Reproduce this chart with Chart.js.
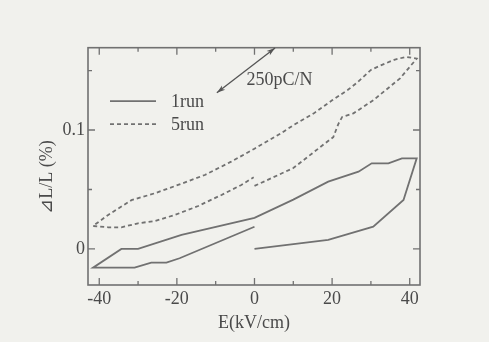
<!DOCTYPE html>
<html>
<head>
<meta charset="utf-8">
<script src="https://cdn.jsdelivr.net/npm/chart.js@4/dist/chart.umd.min.js"></script>
<style>
  html, body { margin: 0; padding: 0; background: #f1f1ed; }
  #wrap { width: 489px; height: 342px; }
</style>
</head>
<body>
<div id="wrap"><canvas id="c" width="489" height="342"></canvas></div>
<script>
// ---- data ----
const run1E = [0, 19, 30.6, 38.4, 41.8, 38, 34.5, 30.2, 26.8, 19, 10, 0, -18.8, -30, -34.3, -41.6, -30.9, -26.6, -22.7, -19.3, 0];
const run1DL = [0, 0.0076, 0.0187, 0.0412, 0.0762, 0.0762, 0.072, 0.072, 0.065, 0.0566, 0.0415, 0.0262, 0.0118, 0, 0, -0.0157, -0.0157, -0.0115, -0.0115, -0.0078, 0.0187];

const run5E = [0, 10, 18.2, 20.3, 21.6, 22.6, 25.5, 30.6, 37.5, 41.8, 39, 36, 33, 30, 26.5, 24, 20, 15.3, 10, 6.7, 0, -6, -12.8, -19.7, -25.7, -31.7, -37.7, -41.6, -37.7, -34.3, -30, -25.7, -20.5, -14.5, -8.5, -3.4, -0.2];
const run5DL = [0.053, 0.068, 0.0888, 0.094, 0.105, 0.111, 0.114, 0.125, 0.1434, 0.16, 0.1615, 0.159, 0.155, 0.1505, 0.14, 0.1336, 0.125, 0.114, 0.104, 0.097, 0.0843, 0.0734, 0.0622, 0.0538, 0.0468, 0.041, 0.0286, 0.0193, 0.0182, 0.0182, 0.0216, 0.0235, 0.0286, 0.0361, 0.0454, 0.0538, 0.0602];

const seriesNames = ['1run', '5run'];
const xTickLabels = [-40, -20, 0, 20, 40];
const xMinorTicks = [-30, -10, 10, 30];
const yTickLabels = [0, 0.1];
const yMinorTicks = [0.05, 0.15];
const xTitle = 'E(kV/cm)';
const yTitle = '\u22BFL/L (%)';
const arrowText = '250pC/N';
const arrowFrom = { x: -9.7, y: 0.1313 };
const arrowTo = { x: 5.3, y: 0.169 };

// ---- style ----
const LINE = '#717171';
const TEXT = '#4a4a4a';
const FONT = "'Liberation Serif', 'Times New Roman', serif";

const toPts = (xs, ys) => xs.map((x, i) => ({ x: x, y: ys[i] }));

const decor = {
  id: 'decor',
  beforeDraw(chart) {
    const ctx = chart.ctx;
    ctx.save();
    ctx.fillStyle = '#f1f1ed';
    ctx.fillRect(0, 0, chart.width, chart.height);
    ctx.restore();
  },
  afterDraw(chart) {
    const ctx = chart.ctx;
    const a = chart.chartArea;
    const xs = chart.scales.x, ys = chart.scales.y;
    ctx.save();
    // frame
    ctx.strokeStyle = LINE;
    ctx.lineWidth = 1.6;
    ctx.strokeRect(a.left, a.top, a.right - a.left, a.bottom - a.top);
    // inward ticks
    ctx.lineWidth = 1.3;
    const xt = (v, len) => {
      const p = xs.getPixelForValue(v);
      ctx.beginPath();
      ctx.moveTo(p, a.bottom); ctx.lineTo(p, a.bottom - len);
      ctx.moveTo(p, a.top); ctx.lineTo(p, a.top + len);
      ctx.stroke();
    };
    const yt = (v, len) => {
      const p = ys.getPixelForValue(v);
      ctx.beginPath();
      ctx.moveTo(a.left, p); ctx.lineTo(a.left + len, p);
      ctx.moveTo(a.right, p); ctx.lineTo(a.right - len, p);
      ctx.stroke();
    };
    xTickLabels.forEach(v => xt(v, 7));
    xMinorTicks.forEach(v => xt(v, 4));
    yTickLabels.forEach(v => yt(v, 7));
    yMinorTicks.forEach(v => yt(v, 4));

    ctx.fillStyle = TEXT;
    ctx.font = '18px ' + FONT;
    ctx.textBaseline = 'middle';
    // x title
    ctx.textAlign = 'center';
    ctx.fillText(xTitle, (a.left + a.right) / 2, a.bottom + 38);
    // y title
    ctx.save();
    ctx.translate(a.left - 41, a.bottom - 108);
    ctx.rotate(-Math.PI / 2);
    ctx.fillText(yTitle, 0, 0);
    ctx.restore();

    // legend
    const ds = chart.data.datasets;
    const ly = [a.top + 53.5, a.top + 76.5];
    ds.forEach((d, i) => {
      ctx.save();
      ctx.strokeStyle = d.borderColor;
      ctx.lineWidth = d.borderWidth;
      ctx.setLineDash(d.borderDash || []);
      ctx.beginPath();
      ctx.moveTo(a.left + 22, ly[i]);
      ctx.lineTo(a.left + 68, ly[i]);
      ctx.stroke();
      ctx.restore();
      ctx.textAlign = 'left';
      ctx.fillText(d.label, a.left + 83, ly[i] + 1);
    });

    // arrow
    const x1 = xs.getPixelForValue(arrowFrom.x), y1 = ys.getPixelForValue(arrowFrom.y);
    const x2 = xs.getPixelForValue(arrowTo.x), y2 = ys.getPixelForValue(arrowTo.y);
    ctx.strokeStyle = '#555';
    ctx.fillStyle = '#555';
    ctx.lineWidth = 1.3;
    ctx.beginPath(); ctx.moveTo(x1, y1); ctx.lineTo(x2, y2); ctx.stroke();
    const head = (tx, ty, fx, fy) => {
      const ang = Math.atan2(ty - fy, tx - fx);
      const L = 9, W = 0.3;
      ctx.beginPath();
      ctx.moveTo(tx, ty);
      ctx.lineTo(tx - L * Math.cos(ang - W), ty - L * Math.sin(ang - W));
      ctx.lineTo(tx - L * 0.7 * Math.cos(ang), ty - L * 0.7 * Math.sin(ang));
      ctx.lineTo(tx - L * Math.cos(ang + W), ty - L * Math.sin(ang + W));
      ctx.closePath();
      ctx.fill();
    };
    head(x1, y1, x2, y2);
    head(x2, y2, x1, y1);
    ctx.fillStyle = TEXT;
    ctx.textAlign = 'left';
    ctx.fillText(arrowText, 246.5, a.top + 33);
    ctx.restore();
  }
};

new Chart(document.getElementById('c'), {
  type: 'scatter',
  data: {
    datasets: [
      { label: seriesNames[0], data: toPts(run1E, run1DL), showLine: true, borderColor: LINE, borderWidth: 1.8, pointRadius: 0, tension: 0, fill: false },
      { label: seriesNames[1], data: toPts(run5E, run5DL), showLine: true, borderColor: LINE, borderWidth: 1.8, borderDash: [4, 3], pointRadius: 0, tension: 0, fill: false }
    ]
  },
  options: {
    responsive: false,
    animation: false,
    devicePixelRatio: 1,
    layout: { padding: { top: 47.7, right: 69, left: 0, bottom: 0 } },
    plugins: { legend: { display: false }, tooltip: { enabled: false } },
    scales: {
      x: {
        type: 'linear', min: -42.9, max: 42.65,
        grid: { display: false, drawTicks: false }, border: { display: false },
        ticks: { color: TEXT, font: { family: FONT, size: 18 }, padding: 3, maxRotation: 0 },
        afterBuildTicks: s => { s.ticks = xTickLabels.map(v => ({ value: v })); },
        afterFit: s => { s.height = 57; }
      },
      y: {
        type: 'linear', min: -0.0303, max: 0.1692,
        grid: { display: false, drawTicks: false }, border: { display: false },
        ticks: { color: TEXT, font: { family: FONT, size: 18 }, padding: 3 },
        afterBuildTicks: s => { s.ticks = yTickLabels.map(v => ({ value: v })); },
        afterFit: s => { s.width = 88; }
      }
    }
  },
  plugins: [decor]
});
</script>
</body>
</html>
